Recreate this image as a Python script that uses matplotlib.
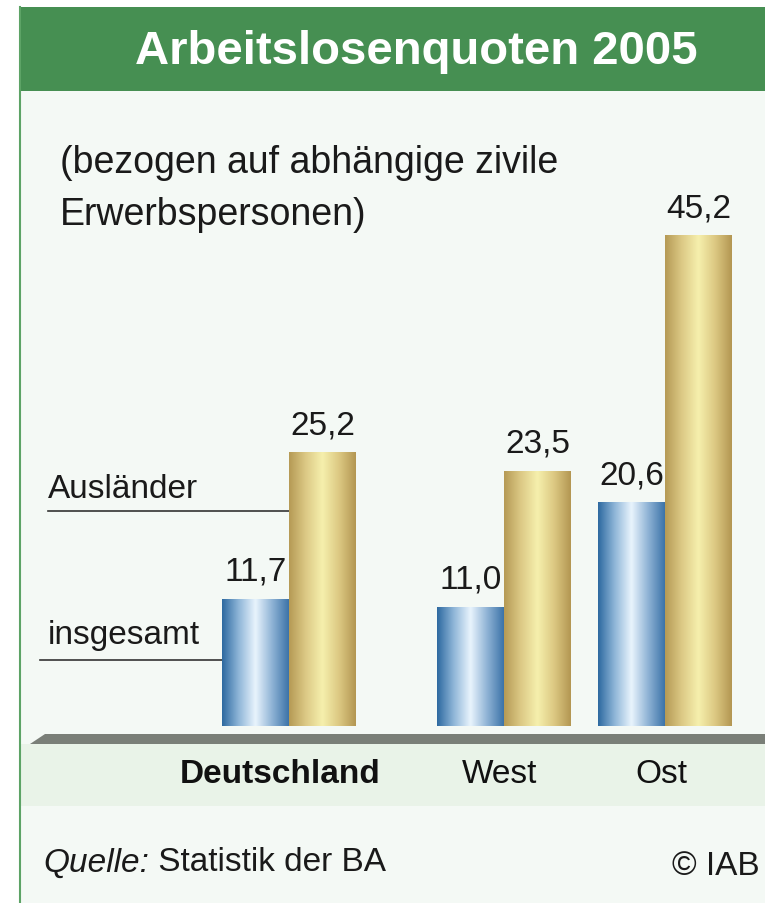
import numpy as np
import matplotlib.pyplot as plt
from matplotlib.colors import LinearSegmentedColormap
from matplotlib.patches import Rectangle, Polygon

plt.rcParams['font.family'] = ['Liberation Sans', 'DejaVu Sans']

# data
regionen = ['Deutschland', 'West', 'Ost']
insgesamt = [11.7, 11.0, 20.6]
auslaender = [25.2, 23.5, 45.2]
labels_ins = ['11,7', '11,0', '20,6']
labels_aus = ['25,2', '23,5', '45,2']

# layout (pixel coordinates of the 765x904 canvas)
W, H = 765, 904
centers = [289, 504, 665]
bw = 67
base_px = 727
px_per_unit = 10.86

fig = plt.figure(figsize=(W / 100, H / 100), dpi=100)
fig.patch.set_facecolor('white')

# background axes in pixel coords
bg = fig.add_axes([0, 0, 1, 1])
bg.set_xlim(0, W); bg.set_ylim(H, 0); bg.axis('off')
bg.add_patch(Rectangle((20, 8), W - 20, H - 8, facecolor='#f4f9f5', edgecolor='none'))
bg.add_patch(Rectangle((20, 8), W - 20, 84, facecolor='#468f52', edgecolor='none'))
bg.add_patch(Rectangle((20, 745), W - 20, 62, facecolor='#e9f3e8', edgecolor='none'))
bg.add_patch(Polygon([(30, 745), (45, 735), (W, 735), (W, 745)], closed=True,
                     facecolor='#7a7f78', edgecolor='none'))
bg.plot([20, 20], [8, H], color='#5da366', lw=1.5)

bg.text(416, 52, 'Arbeitslosenquoten 2005', color='white', fontsize=34,
        fontweight='bold', ha='center', va='center')
bg.text(60, 163, '(bezogen auf abhängige zivile', fontsize=27, color='#1a1a1a', va='center')
bg.text(60, 215, 'Erwerbspersonen)', fontsize=27, color='#1a1a1a', va='center')

bg.text(48, 490, 'Ausländer', fontsize=24, color='#1a1a1a', va='center')
bg.plot([48, centers[0]], [512, 512], color='#333333', lw=1.2)
bg.text(48, 636, 'insgesamt', fontsize=24, color='#1a1a1a', va='center')
bg.plot([40, centers[0] - bw], [661, 661], color='#333333', lw=1.2)

cat_x = [280, 500, 661]
for i, name in enumerate(regionen):
    bg.text(cat_x[i], 775, name, fontsize=24, color='#111111', ha='center', va='center',
            fontweight='bold' if i == 0 else 'normal')

t1 = bg.text(43, 863, 'Quelle:', fontsize=24, style='italic', color='#1a1a1a', va='center')
bg.annotate(' Statistik der BA', xy=(1, 0), xycoords=t1, fontsize=24,
            color='#1a1a1a', va='bottom', ha='left')
bg.text(760, 867, '© IAB', fontsize=24, color='#1a1a1a', ha='right', va='center')

# bar axes
top_px = 90
ax = fig.add_axes([0, (H - base_px) / H, 1, (base_px - top_px) / H])
ax.set_xlim(0, W)
ax.set_ylim(0, (base_px - top_px) / px_per_unit)
ax.axis('off')
ax.patch.set_alpha(0)

blue_cm = LinearSegmentedColormap.from_list('b', ['#2d69a0', '#8fb6d8', '#e9f4fd', '#8fb3d5', '#3c73a8'])
gold_cm = LinearSegmentedColormap.from_list('g', ['#b59a55', '#dcc985', '#f6f0ad', '#dcc882', '#b39652'])
grad = np.linspace(0, 1, 256).reshape(1, -1)

x_ins = [c - bw / 2 for c in centers]
x_aus = [c + bw / 2 for c in centers]
bars1 = ax.bar(x_ins, insgesamt, width=bw, color='none')
bars2 = ax.bar(x_aus, auslaender, width=bw, color='none')

for bars, cm in ((bars1, blue_cm), (bars2, gold_cm)):
    for b in bars:
        x0, h, w = b.get_x(), b.get_height(), b.get_width()
        im = ax.imshow(grad, cmap=cm, aspect='auto', extent=(x0, x0 + w, 0, h),
                       interpolation='bicubic', zorder=2)
        im.set_clip_path(b)

for bars, labs in ((bars1, labels_ins), (bars2, labels_aus)):
    for b, lab in zip(bars, labs):
        ax.annotate(lab, (b.get_x() + b.get_width() / 2, b.get_height()),
                    xytext=(0, 13.7), textcoords='offset points', ha='center',
                    va='baseline', fontsize=24, color='#1a1a1a')

fig.savefig('out.png', dpi=100)
